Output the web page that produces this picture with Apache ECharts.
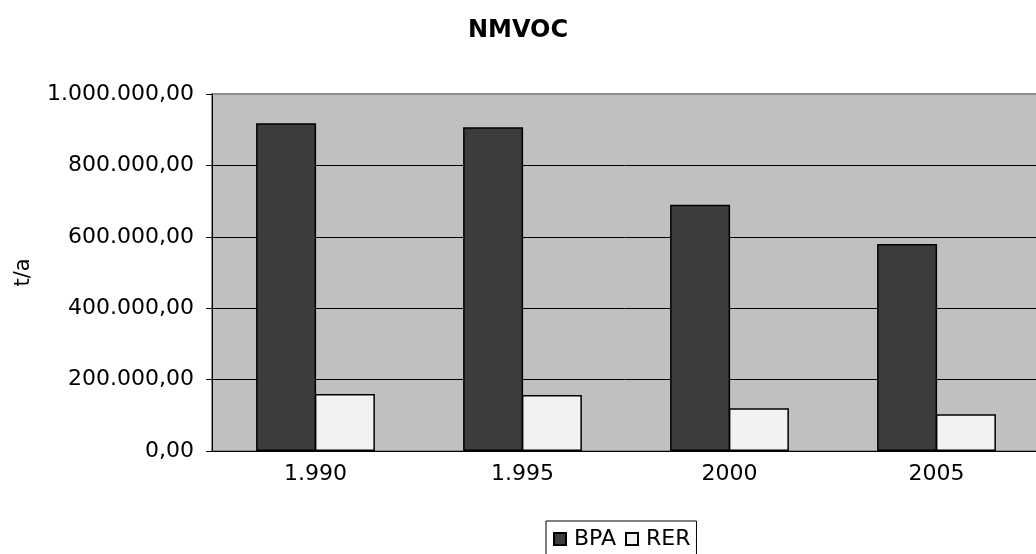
<!DOCTYPE html>
<html>
<head>
<meta charset="utf-8">
<script src="https://cdn.jsdelivr.net/npm/echarts@6/dist/echarts.min.js"></script>
<style>
  html, body { margin: 0; padding: 0; background: #fff; }
  #chart { width: 1036px; height: 554px; }
</style>
</head>
<body>
<div id="chart"></div>
<script>
// Daten
var years = ['1.990', '1.995', '2000', '2005'];
var bpa = [918000, 907000, 690000, 580000];
var rer = [160000, 157000, 120000, 103000];

// Zahlen im deutschen Format: 1.000.000,00
function fmt(v) {
    var s = Math.round(v).toString().replace(/\B(?=(\d{3})+(?!\d))/g, '.');
    return s + ',00';
}

var font = 'DejaVu Sans, Verdana, sans-serif';
var chart = echarts.init(document.getElementById('chart'));

var option = {
    animation: false,
    title: {
        text: 'NMVOC',
        left: 'center',
        top: 14,
        textStyle: { fontFamily: font, fontSize: 24, fontWeight: 'bold', color: '#000' }
    },
    legend: {
        left: 546,
        top: 521,
        padding: [7, 6, 6, 7],
        borderColor: '#000',
        borderWidth: 1,
        itemWidth: 12,
        itemHeight: 12,
        itemGap: 9,
        icon: 'rect',
        textStyle: { fontFamily: font, fontSize: 22, color: '#000', padding: [0, 0, 0, 3] },
        data: ['BPA', 'RER']
    },
    grid: {
        left: 212,
        right: -4,
        top: 94,
        bottom: 103,
        outerBoundsMode: 'none',
        containLabel: false,
        show: true,
        backgroundColor: '#c0c0c0',
        borderColor: '#8c8c8c',
        borderWidth: 2
    },
    xAxis: {
        type: 'category',
        data: years,
        axisLine: { lineStyle: { color: '#000', width: 1 } },
        axisTick: { alignWithLabel: false, length: 6, lineStyle: { color: '#000' } },
        axisLabel: { fontFamily: font, fontSize: 22, color: '#000', margin: 12 }
    },
    yAxis: {
        type: 'value',
        min: 0,
        max: 1000000,
        interval: 200000,
        name: 't/a',
        nameLocation: 'middle',
        nameGap: 178,
        nameRotate: 90,
        nameTextStyle: { fontFamily: font, fontSize: 21, color: '#000' },
        axisLine: { show: true, lineStyle: { color: '#000', width: 1 } },
        axisTick: { show: true, length: 6, lineStyle: { color: '#000' } },
        axisLabel: { fontFamily: font, fontSize: 22, color: '#000', margin: 18, formatter: fmt },
        splitLine: { showMaxLine: false, lineStyle: { color: '#000', width: 1 } }
    },
    series: [
        {
            name: 'BPA',
            type: 'bar',
            data: bpa,
            barWidth: 60,
            barGap: '-2%',
            itemStyle: { color: '#3c3c3c', borderColor: '#000', borderWidth: 1.5 }
        },
        {
            name: 'RER',
            type: 'bar',
            data: rer,
            barWidth: 60,
            barGap: '-2%',
            itemStyle: { color: '#f2f2f2', borderColor: '#000', borderWidth: 1.5 }
        }
    ]
};

chart.setOption(option);
</script>
</body>
</html>
